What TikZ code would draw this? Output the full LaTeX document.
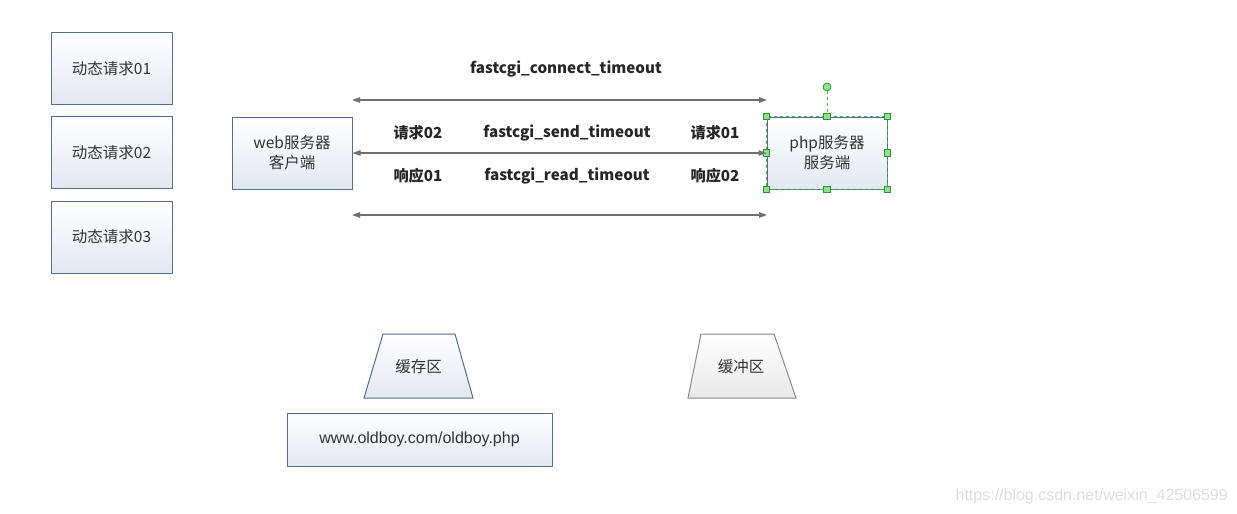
\documentclass[tikz,border=0pt]{standalone}
\usepackage{fontspec}
\setmainfont{Liberation Sans}
\newfontfamily\cjk{Noto Sans CJK SC}
\usetikzlibrary{arrows.meta}
\definecolor{boxborder}{HTML}{4F6E92}
\definecolor{boxbot}{HTML}{E2E8F1}
\definecolor{arrowgray}{HTML}{707070}
\definecolor{selgreen}{HTML}{3DB83D}
\definecolor{handlefill}{HTML}{8FE08F}
\definecolor{txt}{HTML}{333333}
\definecolor{greyborder}{HTML}{8A8A8A}
\definecolor{greybot}{HTML}{E8E8E8}
\tikzset{
  box/.style={draw=boxborder, line width=1pt, top color=white, bottom color=boxbot,
    minimum width=121pt, minimum height=72pt, inner sep=0pt, align=center,
    text=txt, font=\cjk\fontsize{15.5}{20}\selectfont},
  lbl/.style={text=black!85, font=\cjk\bfseries\fontsize{15.2}{18}\selectfont, inner sep=0pt},
  conn/.style={draw=arrowgray, line width=1.2pt, {Triangle[length=8pt,width=5.5pt]}-{Triangle[length=8pt,width=5.5pt]}},
  handle/.style={draw=selgreen!80!black, fill=handlefill, line width=0.8pt, minimum size=6.5pt, inner sep=0pt},
  trapbox/.style={line width=1pt},
  traptext/.style={text=txt, font=\cjk\fontsize{15.5}{18}\selectfont},
}
\begin{document}
\begin{tikzpicture}[x=1pt,y=-1pt]
\useasboundingbox (0,0) rectangle (1237,514);
\fill[white] (0,0) rectangle (1237,514);

% left request boxes
\node[box] (r1) at (111.5,68.5) {动态请求01};
\node[box] (r2) at (111.5,152.5) {动态请求02};
\node[box] (r3) at (111.5,237) {动态请求03};

% servers
\node[box, minimum width=120pt] (web) at (292,153) {web服务器\\客户端};
\node[box, minimum width=120pt] (php) at (827,153) {php服务器\\服务端};

% selection outline around php
\draw[selgreen, dashed, line width=1pt] (php.north west) rectangle (php.south east);
\node[draw=selgreen!80!black, fill=handlefill, circle, minimum size=8pt, inner sep=0pt, line width=0.8pt] (rot) at (827,87) {};
\draw[selgreen, dashed, line width=1pt] (rot.south) -- (php.north);
\foreach \a in {north west,north,north east,west,east,south west,south,south east}
  \node[handle] at (php.\a) {};

% connectors
\coordinate (t1) at (352,100);
\coordinate (t2) at (767,100);
\coordinate (b1) at (352,215);
\coordinate (b2) at (767,215);
\draw[conn] (t1) -- (t2);
\draw[conn] (web.east) -- (php.west);
\draw[conn] (b1) -- (b2);

% labels
\node[lbl] (lc) at (566,69) {fastcgi\_connect\_timeout};
\node[lbl] (q2) at (418,133) {请求02};
\node[lbl] (ls) at (567,133) {fastcgi\_send\_timeout};
\node[lbl] (q1) at (715,133) {请求01};
\node[lbl] (a1) at (418,176) {响应01};
\node[lbl] (lr) at (567,176) {fastcgi\_read\_timeout};
\node[lbl] (a2) at (715,176) {响应02};

% trapezoids
\shade[top color=white, bottom color=boxbot] (383,334) -- (455,334) -- (473,398) -- (364,398) -- cycle;
\draw[boxborder, trapbox] (383,334) -- (455,334) -- (473,398) -- (364,398) -- cycle;
\node[traptext] (cache) at (418.5,367) {缓存区};

\shade[top color=white, bottom color=greybot] (701,334) -- (774,334) -- (796,398) -- (688,398) -- cycle;
\draw[greyborder, trapbox] (701,334) -- (774,334) -- (796,398) -- (688,398) -- cycle;
\node[traptext] (buf) at (741,367) {缓冲区};

% url box
\node[box, minimum width=265pt, minimum height=53pt, font=\fontsize{16}{19}\selectfont] (url) at (419.5,439.5) {www.oldboy.com/oldboy.php};

% watermark
\node[text=black!13, font=\fontsize{16}{19}\selectfont, anchor=east, inner sep=0pt] (wm) at (1228,496) {https://blog.csdn.net/weixin\_42506599};
\end{tikzpicture}
\end{document}
